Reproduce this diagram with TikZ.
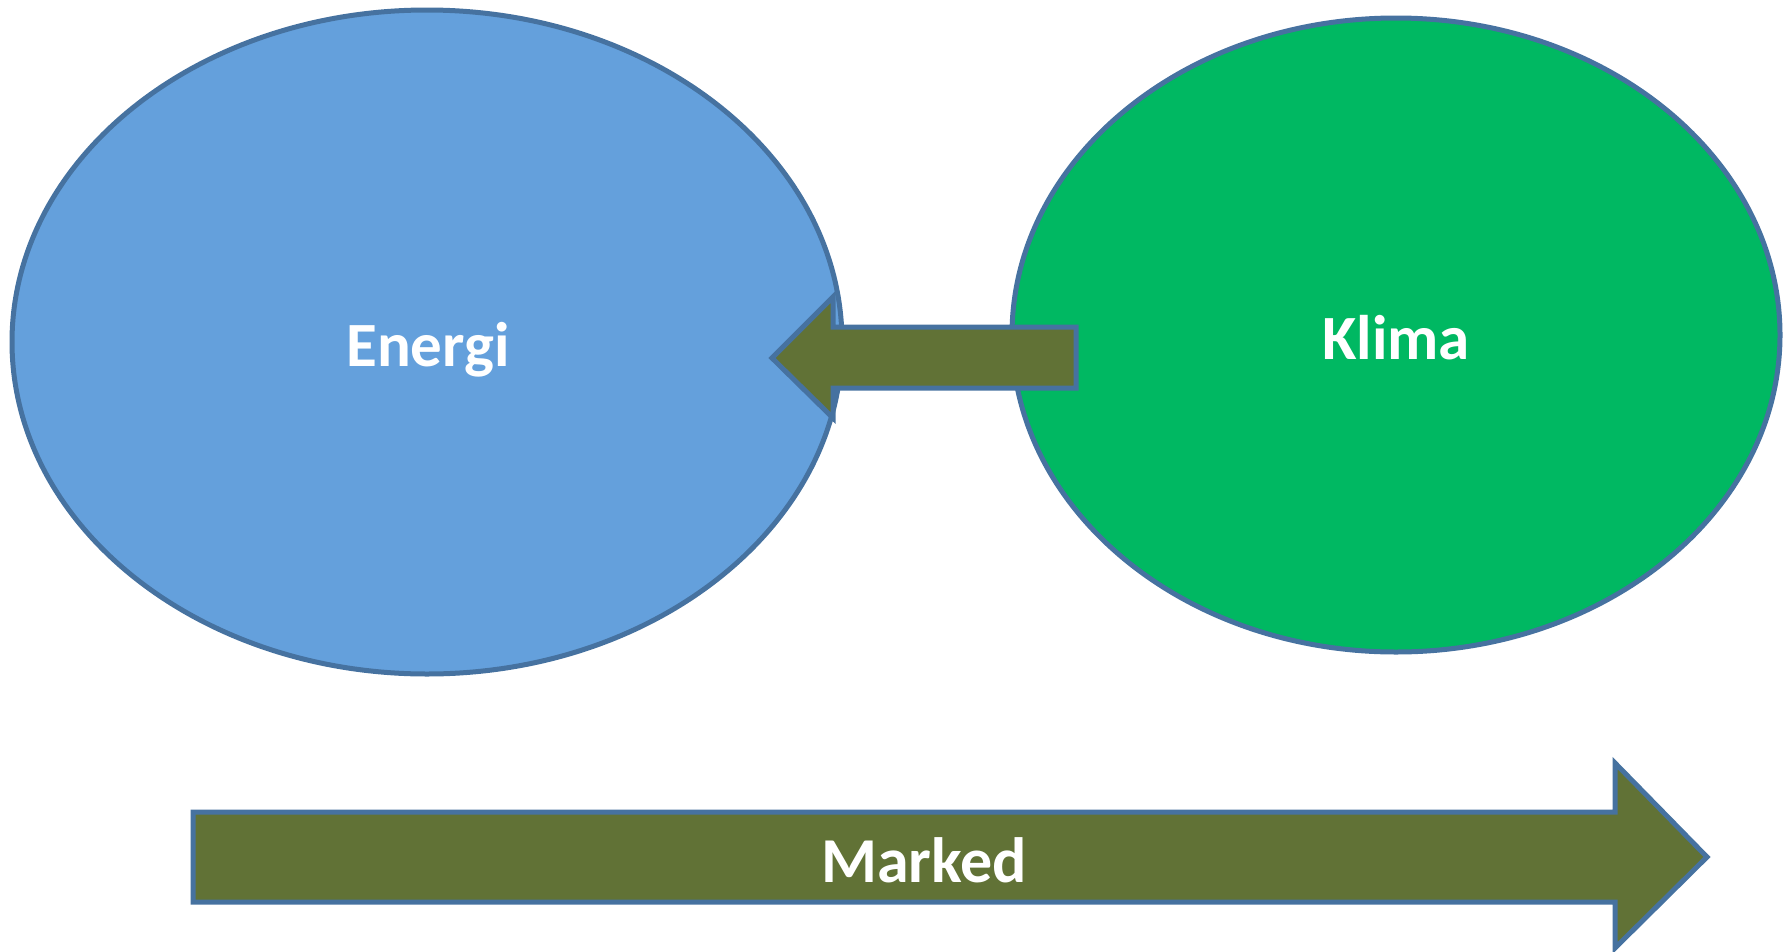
\documentclass[tikz,border=0pt]{standalone}
\usepackage{fontspec}
\setmainfont{Carlito}
\usetikzlibrary{shapes.geometric}
\definecolor{edge}{RGB}{70,114,160}
\definecolor{bluefill}{RGB}{100,160,220}
\definecolor{greenfill}{RGB}{0,184,98}
\definecolor{olive}{RGB}{97,114,54}
\tikzset{
  blob/.style={ellipse, draw=edge, line width=5pt, inner sep=0pt},
  blockarrow/.style={draw=edge, fill=olive, line width=5pt, line join=miter},
  lbl/.style={text=white, font=\fontsize{63}{68}\selectfont\bfseries, inner sep=0pt, anchor=base}
}
\begin{document}
\begin{tikzpicture}[x=1pt,y=-1pt]
\useasboundingbox (0,0) rectangle (1791,951);
\node[blob, fill=bluefill, minimum width=830pt, minimum height=664pt] (energi) at (427,342) {};
\node[blob, fill=greenfill, minimum width=768pt, minimum height=634pt] (klima) at (1396,335) {};
\draw[blockarrow] (1076,327) -- (833,327) -- (833,297) -- (772,358) -- (833,418) -- (833,388) -- (1076,388) -- cycle;
\draw[blockarrow] (193,812) -- (1615,812) -- (1615,763) -- (1707,857) -- (1615,948) -- (1615,902) -- (193,902) -- cycle;
\node[lbl] (tenergi) at (428,366) {Energi};
\node[lbl] (tklima) at (1396,359) {Klima};
\node[lbl, font=\fontsize{64}{69}\selectfont\bfseries] (tmarked) at (924,882) {Marked};
\end{tikzpicture}
\end{document}
